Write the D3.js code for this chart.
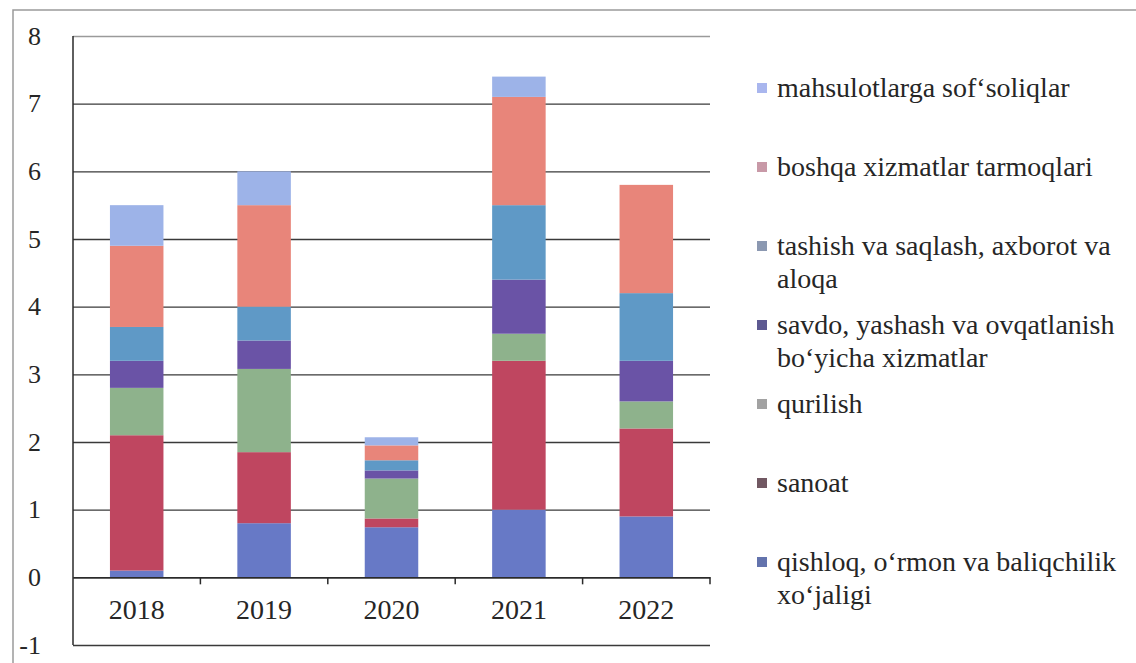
<!DOCTYPE html>
<html>
<head>
<meta charset="utf-8">
<script src="https://cdn.jsdelivr.net/npm/d3@7"></script>
<style>
    body { margin: 0; background: #fff; }
    #chart { width: 1136px; height: 663px; }
</style>
</head>
<body>
<div id="chart"></div>
<script>
//Datos
const years = ['2018', '2019', '2020', '2021', '2022'];
const qishloq = [0.1, 0.8, 0.74, 1.0, 0.9];
const sanoat = [2.0, 1.05, 0.13, 2.2, 1.3];
const qurilish = [0.7, 1.23, 0.59, 0.4, 0.4];
const savdo = [0.4, 0.42, 0.12, 0.8, 0.6];
const tashish = [0.5, 0.5, 0.15, 1.1, 1.0];
const boshqa = [1.2, 1.5, 0.22, 1.6, 1.6];
const mahsulot = [0.6, 0.5, 0.12, 0.3, 0.0];
const yTicks = [-1, 0, 1, 2, 3, 4, 5, 6, 7, 8];

const keys = ['qishloq', 'sanoat', 'qurilish', 'savdo', 'tashish', 'boshqa', 'mahsulot'];
const legendLabels = [
    ['qishloq, o‘rmon va baliqchilik', 'xo‘jaligi'],
    ['sanoat'],
    ['qurilish'],
    ['savdo, yashash va ovqatlanish', 'bo‘yicha xizmatlar'],
    ['tashish va saqlash, axborot va', 'aloqa'],
    ['boshqa xizmatlar tarmoqlari'],
    ['mahsulotlarga sof‘soliqlar']
];

//Colores
const barColors = ['#6779c6', '#bf4660', '#8eb28c', '#6a53a6', '#5f99c6', '#e8857a', '#9db3e8'];
const legendColors = ['#6373ad', '#715862', '#a2a2a2', '#5d5991', '#8b98b1', '#c899a7', '#a9b6ee'];
const FONT = "'Liberation Serif'";

let series = [qishloq, sanoat, qurilish, savdo, tashish, boshqa, mahsulot];
let data = years.map(function(y, i) {
    let row = { year: y };
    keys.forEach(function(k, j) { row[k] = series[j][i]; });
    return row;
});

let margin = {top: 36, left: 73, right: 426, bottom: 18},
    width = 1136 - margin.left - margin.right,
    height = 663 - margin.top - margin.bottom;

let svg = d3.select('#chart')
    .append('svg')
        .attr('width', 1136)
        .attr('height', 663)
        .style('font-family', FONT);

//Marco exterior
svg.append('path')
    .attr('d', 'M13,663 L13,10 L1136,10')
    .attr('fill', 'none')
    .attr('stroke', '#9a9a9a')
    .attr('stroke-width', 1.5);

let g = svg.append('g')
    .attr('transform', 'translate(' + margin.left + ',' + margin.top + ')');

let x = d3.scaleBand()
    .domain(years)
    .range([0, width])
    .paddingInner(0.58)
    .paddingOuter(0.29);

let y = d3.scaleLinear()
    .domain([-1, 8])
    .range([height, 0]);

//Eje Y con líneas de cuadrícula
let yAxis = function(g) {
    g.call(d3.axisLeft(y).tickValues(yTicks).tickSize(8).tickPadding(24));
    g.attr('font-family', null).attr('font-size', null);
    g.call(function(g) { g.select('.domain').remove(); });
    g.selectAll('.tick line')
        .attr('x2', width)
        .attr('stroke', function(d) { return d == 8 ? '#9a9a9a' : '#3a3a3a'; })
        .attr('stroke-width', 1.3);
    g.selectAll('.tick text')
        .style('font-family', FONT)
        .style('font-size', '26px')
        .attr('fill', '#262626')
        .text(function(d) { return d; });
};

g.append('g').call(yAxis);

//Barras apiladas
let stacked = d3.stack().keys(keys)(data);

g.append('g')
    .selectAll('g')
    .data(stacked)
    .enter()
    .append('g')
        .attr('fill', function(d, i) { return barColors[i]; })
    .selectAll('rect')
    .data(function(d) { return d; })
    .enter()
    .append('rect')
        .attr('x', function(d) { return x(d.data.year); })
        .attr('width', x.bandwidth())
        .attr('y', function(d) { return y(d[1]); })
        .attr('height', function(d) { return y(d[0]) - y(d[1]); });

//Eje vertical
g.append('line')
    .attr('x1', 0).attr('x2', 0)
    .attr('y1', y(8)).attr('y2', y(-1))
    .attr('stroke', '#2a2a2a')
    .attr('stroke-width', 1.5);

//Eje X en cero
let xAxis = function(g) {
    g.call(d3.axisBottom(x).tickSize(0).tickPadding(22));
    g.attr('font-family', null).attr('font-size', null);
    g.select('.domain').attr('stroke', '#2a2a2a').attr('stroke-width', 1.5);
    g.selectAll('.tick text')
        .style('font-family', FONT)
        .style('font-size', '28px')
        .attr('fill', '#262626');
};

let xg = g.append('g')
    .attr('transform', 'translate(0,' + y(0) + ')')
    .call(xAxis);

xg.selectAll('.sep')
    .data(d3.range(1, years.length + 1))
    .enter()
    .append('line')
        .attr('x1', function(d) { return d * width / years.length; })
        .attr('x2', function(d) { return d * width / years.length; })
        .attr('y1', 0)
        .attr('y2', 7)
        .attr('stroke', '#2a2a2a')
        .attr('stroke-width', 1.5);

//Leyenda
let legend = svg.append('g')
    .attr('transform', 'translate(757,0)');

let items = legend.selectAll('g')
    .data(keys.slice().reverse())
    .enter()
    .append('g')
        .attr('transform', function(d, i) { return 'translate(0,' + (88 + i * 79) + ')'; });

items.append('rect')
    .attr('x', 0)
    .attr('y', -5)
    .attr('width', 10)
    .attr('height', 10)
    .attr('fill', function(d) { return legendColors[keys.indexOf(d)]; });

items.append('text')
    .attr('x', 20)
    .attr('y', 9)
    .style('font-family', FONT)
    .style('font-size', '28px')
    .attr('fill', '#262626')
    .selectAll('tspan')
    .data(function(d) { return legendLabels[keys.indexOf(d)]; })
    .enter()
    .append('tspan')
        .attr('x', 20)
        .attr('dy', function(d, i) { return i == 0 ? 0 : 33; })
        .text(function(d) { return d; });
</script>
</body>
</html>
